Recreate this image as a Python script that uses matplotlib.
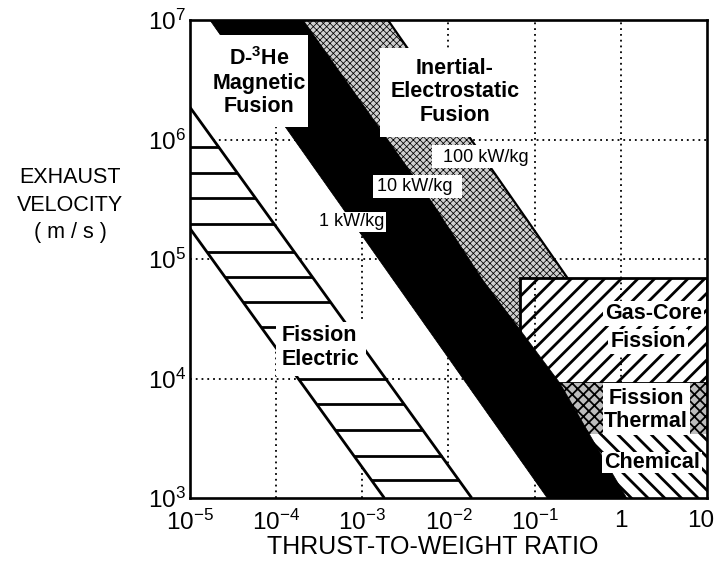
import numpy as np
import matplotlib
matplotlib.use('Agg')
import matplotlib.pyplot as plt
from matplotlib.patches import Polygon, Rectangle
from matplotlib.transforms import ScaledTranslation

plt.rcParams['font.family'] = ['Liberation Sans', 'DejaVu Sans']
plt.rcParams['mathtext.fontset'] = 'custom'
plt.rcParams['mathtext.rm'] = 'Liberation Sans'
plt.rcParams['mathtext.it'] = 'Liberation Sans:italic'
plt.rcParams['mathtext.bf'] = 'Liberation Sans:bold'

# ---------------- data (thrust-to-weight ratio, exhaust velocity m/s) ----------------
x_ticks = [1e-5, 1e-4, 1e-3, 1e-2, 1e-1, 1, 10]
x_tick_labels = [r'$\mathregular{10^{-5}}$', r'$\mathregular{10^{-4}}$', r'$\mathregular{10^{-3}}$',
                 r'$\mathregular{10^{-2}}$', r'$\mathregular{10^{-1}}$', '1', '10']
y_ticks = [1e3, 1e4, 1e5, 1e6, 1e7]
y_tick_labels = [r'$\mathregular{10^{3}}$', r'$\mathregular{10^{4}}$', r'$\mathregular{10^{5}}$',
                 r'$\mathregular{10^{6}}$', r'$\mathregular{10^{7}}$']

# 1 - 10 kW/kg band (black)
black_left_tw = [1.7e-5, 0.14]
black_left_v = [1e7, 1e3]
black_right_tw = [2.05e-4, 6.4e-3, 0.025, 0.196, 0.473, 1.17]
black_right_v = [1e7, 3.0e5, 6.67e4, 9.16e3, 3.05e3, 1e3]

# 10 - 100 kW/kg band (stippled) right boundary
gray_right_tw = [1.98e-3, 14.4]
gray_right_v = [1e7, 1e3]

# Fission electric band
fe_upper_tw = [1e-5, 1.86e-2]
fe_upper_v = [1.86e6, 1e3]
fe_lower_tw = [1e-5, 1.8e-3]
fe_lower_v = [1.8e5, 1e3]
fe_rung_v = [8.65e5, 5.25e5, 3.24e5, 1.96e5, 1.15e5, 7.06e4, 4.37e4, 2.70e4,
             1.0e4, 6.12e3, 3.71e3, 2.24e3, 1.42e3]

# Rectangular regions
gas_core_tw = [0.067, 10]
gas_core_v = [9.2e3, 6.9e4]
thermal_tw = [0.067, 10]
thermal_v = [3.4e3, 9.2e3]
chemical_tw = [0.2, 10]
chemical_v = [1e3, 3.4e3]

# ---------------- figure ----------------
fig = plt.figure(figsize=(7.15, 5.77), dpi=100)
ax = fig.add_axes([190/715, 79/577, 517/715, 478/577])
ax.set_xscale('log')
ax.set_yscale('log')
ax.set_xlim(1e-5, 10)
ax.set_ylim(1e3, 1e7)
ax.set_xticks(x_ticks)
ax.set_xticklabels(x_tick_labels)
ax.set_yticks(y_ticks)
ax.set_yticklabels(y_tick_labels)
ax.minorticks_off()
ax.tick_params(axis='both', length=0, labelsize=17.5)
ax.tick_params(axis='x', pad=8.5)
ax.tick_params(axis='y', pad=3)
last = ax.get_xticklabels()[-1]
last.set_horizontalalignment('right')
last.set_transform(last.get_transform() + ScaledTranslation(0.07, 0, fig.dpi_scale_trans))
for s in ax.spines.values():
    s.set_linewidth(1.9)
    s.set_zorder(10)

grid_kw = dict(color='black', lw=1.3, ls=(0, (1, 2.2)))
grid_x = x_ticks[1:-1]
grid_y = y_ticks[1:-1]
for gx in grid_x:
    ax.axvline(gx, zorder=1, **grid_kw)
for gy in grid_y:
    ax.axhline(gy, zorder=1, **grid_kw)

def set_hlw(p, lw):
    if hasattr(p, 'set_hatch_linewidth'):
        p.set_hatch_linewidth(lw)

# stippled 10-100 kW/kg band
gray_poly = [(black_left_tw[0], black_left_v[0])] + list(zip(gray_right_tw, gray_right_v)) + \
    [(black_left_tw[1], black_left_v[1])]
plt.rcParams['hatch.linewidth'] = 0.55
gp = Polygon(gray_poly, closed=True, facecolor='#cfcfcf', edgecolor='black', lw=0,
             hatch='xxxxx', zorder=2)
set_hlw(gp, 0.55)
ax.add_patch(gp)
ax.plot(gray_right_tw, gray_right_v, color='black', lw=1.6, zorder=2.1)

# rectangular regions
plt.rcParams['hatch.linewidth'] = 2.0
gas = Rectangle((gas_core_tw[0], gas_core_v[0]), gas_core_tw[1]-gas_core_tw[0],
                gas_core_v[1]-gas_core_v[0], facecolor='white', edgecolor='black',
                lw=2, hatch='//', zorder=3)
set_hlw(gas, 2.0)
ax.add_patch(gas)
for gx in grid_x:
    ln = ax.axvline(gx, zorder=3.5, **grid_kw)
    ln.set_clip_path(gas)

plt.rcParams['hatch.linewidth'] = 1.3
th = Rectangle((thermal_tw[0], thermal_v[0]), thermal_tw[1]-thermal_tw[0],
               thermal_v[1]-thermal_v[0], facecolor='#bdbdbd', edgecolor='black',
               lw=0, hatch='xxx', zorder=3)
set_hlw(th, 1.3)
ax.add_patch(th)

plt.rcParams['hatch.linewidth'] = 2.0
ch = Rectangle((chemical_tw[0], chemical_v[0]), chemical_tw[1]-chemical_tw[0],
               chemical_v[1]-chemical_v[0], facecolor='white', edgecolor='black',
               lw=0, hatch='\\\\', zorder=3)
set_hlw(ch, 2.0)
ax.add_patch(ch)

# black 1-10 kW/kg band
black_poly = [(black_left_tw[0], black_left_v[0])] + list(zip(black_right_tw, black_right_v)) + \
    [(black_left_tw[1], black_left_v[1])]
ax.add_patch(Polygon(black_poly, closed=True, facecolor='black', edgecolor='black', lw=0.5, zorder=4))

# fission electric ladder
fe_poly = list(zip(fe_upper_tw, fe_upper_v)) + list(zip(fe_lower_tw, fe_lower_v))[::-1]
ax.add_patch(Polygon(fe_poly, closed=True, facecolor='white', edgecolor='none', zorder=4))
ax.plot(fe_upper_tw, fe_upper_v, color='black', lw=2.0, zorder=4.2, solid_capstyle='butt')
ax.plot(fe_lower_tw, fe_lower_v, color='black', lw=2.0, zorder=4.2, solid_capstyle='butt')
lv = np.log10(fe_rung_v)
left_x = 10 ** np.interp(lv, np.log10(fe_lower_v)[::-1], np.log10(fe_lower_tw)[::-1])
right_x = 10 ** np.interp(lv, np.log10(fe_upper_v)[::-1], np.log10(fe_upper_tw)[::-1])
ax.hlines(fe_rung_v, left_x, right_x, colors='black', lw=2.0, zorder=4.2)

# ---------------- labels ----------------
def label_box(x0, y0, x1, y1, **kw):
    r = Rectangle((x0, y0), x1-x0, y1-y0, transform=ax.transAxes, facecolor='white',
                  edgecolor='none', zorder=5, **kw)
    ax.add_patch(r)

bold = dict(fontsize=15.5, fontweight='bold', zorder=6, transform=ax.transAxes,
            linespacing=1.15)
reg = dict(fontsize=13, zorder=6, transform=ax.transAxes)

label_box(0.0426, 0.776, 0.228, 0.969)
ax.text(0.1335, 0.870, 'D-$^{\\mathbf{3}}$He\nMagnetic\nFusion', ha='center', va='center', **bold)

label_box(0.3675, 0.755, 0.654, 0.941)
ax.text(0.5126, 0.850, 'Inertial-\nElectrostatic\nFusion', ha='center', va='center', **bold)

label_box(0.468, 0.690, 0.6615, 0.738)
ax.text(0.5716, 0.712, '100 kW/kg', ha='center', va='center', **reg)
label_box(0.354, 0.6276, 0.526, 0.6757)
ax.text(0.434, 0.652, '10 kW/kg', ha='center', va='center', **reg)
label_box(0.2437, 0.5565, 0.379, 0.598)
ax.text(0.3124, 0.5775, '1 kW/kg', ha='center', va='center', **reg)

label_box(0.1663, 0.2552, 0.3404, 0.3682)
ax.text(0.178, 0.315, 'Fission\nElectric', ha='left', va='center', **bold)

tb = dict(facecolor='white', edgecolor='none', pad=1.5)
ax.text(0.8960, 0.3860, 'Gas-Core', ha='center', va='center', bbox=tb, **bold)
ax.text(0.886, 0.3274, 'Fission', ha='center', va='center', bbox=tb, **bold)

label_box(0.799, 0.132, 0.967, 0.2406)
ax.text(0.882, 0.184, 'Fission\nThermal', ha='center', va='center', **bold)

label_box(0.797, 0.0523, 0.990, 0.0962)
ax.text(0.8946, 0.0743, 'Chemical', ha='center', va='center', **bold)

fig.text(0.098, 0.6447, 'EXHAUST\nVELOCITY\n( m / s )', ha='center', va='center',
         fontsize=15.5, linespacing=1.4)
fig.text(0.6056, 0.052, 'THRUST-TO-WEIGHT RATIO', ha='center', va='center', fontsize=18)

fig.savefig('out.png', dpi=100)
